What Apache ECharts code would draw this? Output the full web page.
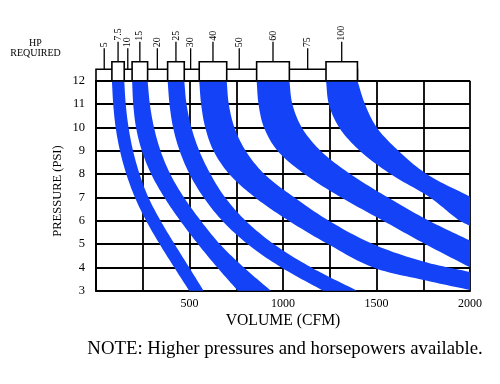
<!DOCTYPE html>
<html><head><meta charset="utf-8">
<script src="https://cdn.jsdelivr.net/npm/echarts@6/dist/echarts.min.js"></script>
<style>html,body{margin:0;padding:0;background:#fff}#c{width:500px;height:384px}</style>
</head><body><div id="c"></div>
<script>
// ---- data (CFM, PSI) ----
const xTickLabels = ['500', '1000', '1500', '2000'];
const yTickLabels = ['3', '4', '5', '6', '7', '8', '9', '10', '11', '12'];
const bandLabels = ['7.5', '15', '25', '40', '60', '100'];

const hp7_5Inner = [[85,12],[92,11],[105,10],[128,9],[162,8],[208,7],[268,6],[340,5],[418,4],[498,3]];
const hp7_5Outer = [[151,12],[159,11],[174,10],[198,9],[233,8],[280,7],[345,6],[420,5],[498,4],[575,3]];
const hp15Inner  = [[193,12],[199,11],[214,10],[245,9],[295,8],[365,7],[450,6],[545,5],[648,4],[758,3]];
const hp15Outer  = [[276,12],[288,11],[310,10],[345,9],[397,8],[470,7],[560,6],[662,5],[790,4],[935,3]];
const hp25Inner  = [[383,12],[393,11],[412,10],[447,9],[500,8],[575,7],[675,6],[810,5],[990,4],[1214,3]];
const hp25Outer  = [[472,12],[484,11],[510,10],[552,9],[612,8],[690,7],[800,6],[950,5],[1150,4],[1396,3]];
const hp40Inner  = [[552,12],[562,11],[584,10],[628,9],[712,8],[850,7],[1030,6],[1240,5],[1480,4],[1750,3.46],[2000,3.03]];
const hp40Outer  = [[699,12],[710,11],[740,10],[800,9],[900,8],[1060,7],[1245,6],[1480,5],[1750,4.25],[2000,3.8]];
const hp60Inner  = [[859,12],[869,11],[898,10],[970,9],[1115,8],[1310,7],[1535,6],[1760,5],[2000,4.0]];
const hp60Outer  = [[1034,12],[1050,11],[1100,10],[1200,9],[1360,8],[1560,7],[1780,6],[2000,5.15]];
const hp100Inner = [[1230,12],[1245,11],[1300,10],[1410,9],[1575,8],[1785,7],[1945,6],[2000,5.78]];
const hp100Outer = [[1398,12],[1438,11],[1501,10],[1617,9],[1768,8],[2000,7.03]];

const tickLabels = ['5', '10', '20', '30', '50', '75'];
const tickCfm = [44, 170, 328, 506, 766, 1132];

const bands = [
  {label: bandLabels[0], inner: hp7_5Inner, outer: hp7_5Outer},
  {label: bandLabels[1], inner: hp15Inner, outer: hp15Outer},
  {label: bandLabels[2], inner: hp25Inner, outer: hp25Outer},
  {label: bandLabels[3], inner: hp40Inner, outer: hp40Outer},
  {label: bandLabels[4], inner: hp60Inner, outer: hp60Outer},
  {label: bandLabels[5], inner: hp100Inner, outer: hp100Outer}
];

const BLUE = '#1443f7';
const SERIF = '"Liberation Serif", "DejaVu Serif", serif';

// centripetal Catmull-Rom through pixel points (drawing only)
function spline(pts) {
  const n = pts.length;
  if (n < 3) return pts.slice();
  const ext = [[2 * pts[0][0] - pts[1][0], 2 * pts[0][1] - pts[1][1]]].concat(pts,
    [[2 * pts[n - 1][0] - pts[n - 2][0], 2 * pts[n - 1][1] - pts[n - 2][1]]]);
  const out = [];
  const d = (a, b) => Math.pow(Math.hypot(b[0] - a[0], b[1] - a[1]), 0.5) || 1e-4;
  for (let i = 1; i < ext.length - 2; i++) {
    const P0 = ext[i - 1], P1 = ext[i], P2 = ext[i + 1], P3 = ext[i + 2];
    const t0 = 0, t1 = t0 + d(P0, P1), t2 = t1 + d(P1, P2), t3 = t2 + d(P2, P3);
    const steps = 12;
    for (let s = 0; s < steps; s++) {
      const t = t1 + (t2 - t1) * s / steps;
      const L = (A, B, ta, tb) => [(tb - t) / (tb - ta) * A[0] + (t - ta) / (tb - ta) * B[0], (tb - t) / (tb - ta) * A[1] + (t - ta) / (tb - ta) * B[1]];
      const A1 = L(P0, P1, t0, t1), A2 = L(P1, P2, t1, t2), A3 = L(P2, P3, t2, t3);
      const B1 = L(A1, A2, t0, t2), B2 = L(A2, A3, t1, t3);
      out.push(L(B1, B2, t1, t2));
    }
  }
  out.push(pts[n - 1]);
  return out;
}

const STRIP_TOP = 12.49, BOX_TOP = 12.81;

function renderBand(params, api) {
  const b = bands[params.dataIndex];
  const inner = spline(b.inner.map(p => api.coord(p)));
  const outer = spline(b.outer.map(p => api.coord(p)));
  return {type: 'polygon', shape: {points: inner.concat(outer.reverse())}, style: {fill: BLUE, stroke: null}};
}

function renderStrip(params, api) {
  const children = [];
  const lastBand = bands[bands.length - 1];
  const s0 = api.coord([0, STRIP_TOP]);
  const s1 = api.coord([lastBand.outer[0][0], 12]);
  children.push({type: 'rect', shape: {x: s0[0], y: s0[1], width: s1[0] - s0[0], height: s1[1] - s0[1]},
    style: {fill: '#fff', stroke: '#000', lineWidth: 1.6}});
  tickCfm.forEach((c, i) => {
    const p = api.coord([c, STRIP_TOP]);
    children.push({type: 'line', shape: {x1: p[0], y1: p[1], x2: p[0], y2: p[1] - 21}, style: {stroke: '#000', lineWidth: 1.3}});
    children.push({type: 'text', x: p[0], y: p[1] - 22, rotation: Math.PI / 2,
      style: {text: tickLabels[i], align: 'left', verticalAlign: 'middle', font: '10px ' + SERIF, fill: '#000'}});
  });
  bands.forEach(b => {
    const a = api.coord([b.inner[0][0], BOX_TOP]);
    const z = api.coord([b.outer[0][0], 12]);
    children.push({type: 'rect', shape: {x: a[0], y: a[1], width: z[0] - a[0], height: z[1] - a[1]},
      style: {fill: '#fff', stroke: '#000', lineWidth: 1.6}});
    const cx = (a[0] + z[0]) / 2;
    children.push({type: 'line', shape: {x1: cx, y1: a[1], x2: cx, y2: a[1] - 20}, style: {stroke: '#000', lineWidth: 1.3}});
    children.push({type: 'text', x: cx, y: a[1] - 21, rotation: Math.PI / 2,
      style: {text: b.label, align: 'left', verticalAlign: 'middle', font: '10px ' + SERIF, fill: '#000'}});
  });
  return {type: 'group', children: children};
}

const chart = echarts.init(document.getElementById('c'), null, {renderer: 'canvas'});
chart.setOption({
  animation: false,
  backgroundColor: '#fff',
  grid: {left: 96, right: 30, top: 80.7, bottom: 93.3, containLabel: false},
  xAxis: {
    type: 'value', min: 0, max: 2000, interval: 250,
    axisLine: {show: true, lineStyle: {color: '#000', width: 2}},
    axisTick: {show: false},
    splitLine: {show: true, lineStyle: {color: '#000', width: 1.8}},
    axisLabel: {
      margin: 7, color: '#000', fontFamily: SERIF, fontSize: 12,
      formatter: v => xTickLabels.indexOf(String(v)) >= 0 ? String(v) : ''
    }
  },
  yAxis: {
    type: 'value', min: 3, max: 12, interval: 1,
    axisLine: {show: true, lineStyle: {color: '#000', width: 2}},
    axisTick: {show: false},
    splitLine: {show: true, lineStyle: {color: '#000', width: 1.8}},
    axisLabel: {
      margin: 11, color: '#000', fontFamily: SERIF, fontSize: 12.5,
      formatter: v => yTickLabels.indexOf(String(v)) >= 0 ? String(v) : ''
    }
  },
  series: [
    {type: 'custom', renderItem: renderBand, data: bands.map(b => b.inner[0]), z: 3},
    {type: 'custom', renderItem: renderStrip, data: [[0, 12]], clip: false, z: 4}
  ],
  graphic: [
    {type: 'text', x: 35.5, y: 43, style: {text: 'HP', align: 'center', verticalAlign: 'middle', font: '10px ' + SERIF, fill: '#000'}},
    {type: 'text', x: 35.5, y: 53.5, style: {text: 'REQUIRED', align: 'center', verticalAlign: 'middle', font: '10px ' + SERIF, fill: '#000'}},
    {type: 'text', x: 283, y: 321, style: {text: 'VOLUME (CFM)', align: 'center', verticalAlign: 'middle', font: '15.7px ' + SERIF, fill: '#000'}},
    {type: 'text', x: 285, y: 349, style: {text: 'NOTE: Higher pressures and horsepowers available.', align: 'center', verticalAlign: 'middle', font: '18.8px ' + SERIF, fill: '#000'}},
    {type: 'text', x: 57.5, y: 191, rotation: Math.PI / 2, style: {text: 'PRESSURE (PSI)', align: 'center', verticalAlign: 'middle', font: '12.5px ' + SERIF, fill: '#000'}}
  ]
});
</script></body></html>
